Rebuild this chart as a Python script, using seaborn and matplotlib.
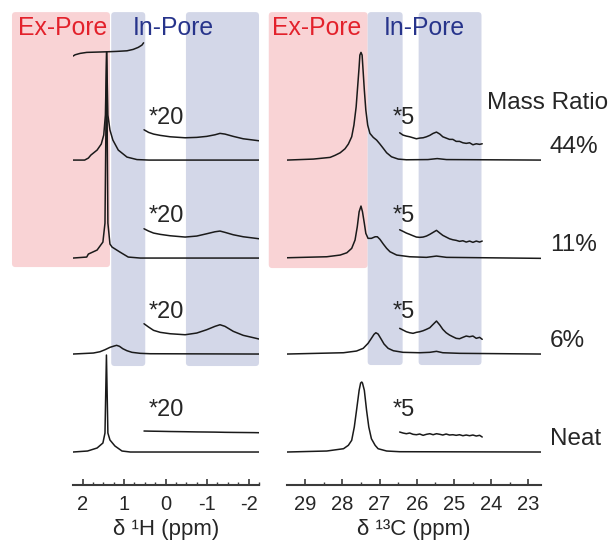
import numpy as np
import matplotlib
matplotlib.use('Agg')
import matplotlib.pyplot as plt
from matplotlib.patches import FancyBboxPatch
from matplotlib.ticker import MultipleLocator
import seaborn as sns

sns.set_style('white')
plt.rcParams['font.family'] = ['Liberation Sans', 'DejaVu Sans']
plt.rcParams['axes.unicode_minus'] = False

samples = ['44%', '11%', '6%', 'Neat']
offsets = [325, 227, 131, 33]

# 1H spectra (ppm, intensity)
h_x = {
    '44%': [2.23, 1.95, 1.86, 1.80, 1.65, 1.55, 1.49, 1.45, 1.42, 1.39, 1.34, 1.27, 1.14, 0.93, 0.69, 0.40, -2.25],
    '11%': [2.23, 1.90, 1.86, 1.65, 1.51, 1.46, 1.42, 1.39, 1.34, 1.29, 1.10, 0.90, 0.61, -2.25],
    '6%': [2.23, 1.74, 1.58, 1.46, 1.34, 1.24, 1.18, 1.11, 1.03, 0.93, 0.81, 0.61, 0.37, -2.25],
    'Neat': [2.23, 1.88, 1.65, 1.51, 1.46, 1.425, 1.39, 1.34, 1.22, 1.05, 0.85, -2.25],
}
h_y = {
    '44%': [0, 0, 2, 5, 10, 16, 25, 45, 108, 45, 30, 20, 10, 3, 0.5, 0, 0],
    '11%': [0, 1, 4, 8, 16, 35, 206, 35, 14, 11, 6, 1, 0, 0],
    '6%': [0, 1, 2.3, 4.3, 6.7, 8, 8.7, 7.7, 5.3, 3.3, 1.7, 0.7, 0.3, 0],
    'Neat': [0, 1, 4, 9, 19, 97, 19, 12, 6, 1, 0, 0],
}
# *20 expansions
h20_x = [0.52, 0.41, 0.29, 0.13, -0.11, -0.47, -0.75, -0.99, -1.19, -1.31, -1.43, -1.63, -1.87, -2.12, -2.25]
h20_y = {
    '44%': [30.3, 27.7, 26, 24.7, 23.3, 22.3, 22.7, 23.7, 25.3, 26.7, 26, 23.7, 21.3, 20, 19.3],
    '11%': [29.3, 27, 25, 23.7, 22.3, 21, 22, 24.3, 26.3, 27, 25.7, 23.3, 21.3, 20, 19.3],
    '6%': [30.3, 27, 23.7, 21.7, 20.3, 19.3, 21, 24.3, 27.7, 29.3, 27.7, 22.7, 18.7, 16.3, 15],
    'Neat': [21, 20.9, 20.8, 20.7, 20.5, 20.3, 20.1, 20, 19.9, 19.8, 19.7, 19.6, 19.5, 19.4, 19.3],
}
# truncation mark above the cut 1H peaks
brk_x = [2.23, 2.18, 2.06, 1.90, 1.66, 1.42, 1.18, 0.93, 0.78, 0.66, 0.57, 0.53]
brk_y = [429, 430.3, 431.7, 432.7, 433, 433.3, 433.7, 434.3, 435.7, 437.7, 440, 442.3]

# 13C spectra (ppm, intensity)
c_x = {
    '44%': [29.49, 28.78, 28.33, 28.20, 28.06, 27.93, 27.84, 27.75, 27.69, 27.63, 27.59, 27.55, 27.53, 27.50,
            27.47, 27.45, 27.41, 27.37, 27.32, 27.26, 27.17, 27.08, 26.99, 26.90, 26.81, 26.68, 26.50, 26.28,
            25.70, 25.45, 25.20, 22.66],
    '11%': [29.49, 28.42, 28.06, 27.88, 27.75, 27.66, 27.60, 27.55, 27.50, 27.46, 27.41, 27.37, 27.31, 27.22,
            27.12, 27.06, 26.99, 26.90, 26.81, 26.72, 26.54, 26.19, 25.74, 25.47, 25.20, 22.66],
    '6%': [29.49, 27.97, 27.62, 27.44, 27.31, 27.22, 27.15, 27.10, 27.04, 26.97, 26.88, 26.77, 26.63, 26.37,
           25.92, 25.65, 25.47, 25.30, 24.85, 22.66],
    'Neat': [29.49, 28.42, 27.97, 27.84, 27.75, 27.68, 27.62, 27.55, 27.51, 27.48, 27.46, 27.41, 27.35, 27.29,
             27.22, 27.12, 27.04, 26.81, 26.46, 22.66],
}
c_y = {
    '44%': [0, 1, 2.7, 4.7, 7.3, 11.3, 16, 23.3, 35, 53.3, 73.3, 93.3, 105, 107.7,
            105, 93.3, 70, 50, 35, 26.7, 22.7, 20, 16, 11.7, 7.3, 3.3, 1, 0.3,
            0.5, 1.5, 0.5, 0],
    '11%': [0.3, 1.3, 3, 5.3, 9.7, 18, 31.3, 46.3, 52, 46.3, 34.7, 24.7, 19.7, 19.7,
            21.3, 21.3, 18.7, 14, 9.7, 6.3, 3, 1.3, 0.7, 2, 0.7, -0.3],
    '6%': [0, 1.3, 3, 5.7, 10.7, 15.7, 19.7, 21.3, 20, 15.7, 10, 5.7, 3.3, 1.7,
           1.3, 1.7, 2.7, 1.3, 0.7, 0],
    'Neat': [0, 1, 3.3, 6.7, 11.7, 25, 41.7, 61.7, 69, 70, 69, 61.7, 41.7, 25,
             13.3, 6.7, 3.3, 1, 0.3, 0],
}
# *5 expansions
c5_x = [26.46, 26.37, 26.28, 26.19, 26.10, 26.01, 25.92, 25.83, 25.74, 25.65, 25.56, 25.47, 25.38,
        25.30, 25.21, 25.12, 25.03, 24.94, 24.85, 24.76, 24.67, 24.58, 24.49, 24.40, 24.31, 24.24]
c5_y = {
    '44%': [27.3, 25, 24, 23.3, 22.3, 21.3, 22, 22.3, 23.3, 24.7, 26.7, 28, 26,
            23.3, 22, 20.7, 20.7, 18.7, 18.7, 17.3, 16.7, 17.3, 15.3, 16.3, 15.7, 16.3],
    '11%': [28.3, 26.7, 25, 23.7, 22.3, 21, 20.7, 21, 22, 23.7, 25.7, 27.7, 25,
            22.7, 21, 19.3, 18.3, 17.7, 16.7, 17.3, 16, 17, 15.7, 17, 16, 17],
    '6%': [25.7, 24, 22.3, 21.3, 20.7, 21.7, 22.3, 23.3, 24.7, 26.3, 29.7, 33, 29,
           24.7, 21.3, 19, 17.3, 15.7, 15.3, 16.7, 18, 17.3, 18, 15.7, 16.7, 14.7],
    'Neat': [20, 19, 18.3, 19, 17.7, 17.3, 18, 16.7, 17.7, 18.3, 17.3, 18.3, 17.7,
             17, 18, 17, 17.3, 16.7, 17.3, 16.3, 17, 16.3, 17, 16, 16.7, 15],
}

RED = '#f9d3d5'
BLUE = '#d3d7e8'
LINE = '#1a1a1a'

fig = plt.figure(figsize=(6.11, 5.43), dpi=100)
ax1 = fig.add_axes([0.1195, 0.1068, 0.3044, 0.893])
ax2 = fig.add_axes([0.4697, 0.1068, 0.4157, 0.893])


def shade(ax, x0, x1, y0, y1, color, aspect):
    r = 3.5 / aspect
    p = FancyBboxPatch((min(x0, x1), y0), abs(x1 - x0), y1 - y0,
                       boxstyle=f'round,pad=0,rounding_size={r}',
                       mutation_aspect=aspect, fc=color, ec='none',
                       clip_on=False, zorder=0)
    ax.add_patch(p)


def trace(ax, xs, ys, off):
    sns.lineplot(x=xs, y=np.array(ys) + off, ax=ax, color=LINE, lw=1.1,
                 sort=False, estimator=None)


# left panel: 1H
shade(ax1, 3.70, 1.34, 218, 473, RED, 41.5)
shade(ax1, 1.31, 0.49, 119, 473, BLUE, 41.5)
shade(ax1, -0.49, -2.25, 119, 473, BLUE, 41.5)
for s, off in zip(samples, offsets):
    trace(ax1, h_x[s], h_y[s], off)
    trace(ax1, h20_x, h20_y[s], off)
    ax1.text(0.42, off + 42, '*20', fontsize=17, ha='left', va='center')
trace(ax1, brk_x, brk_y, 0)
ax1.text(2.47, 457, 'Ex-Pore', color='#e3212b', fontsize=17.8, ha='center', va='center')
ax1.text(-0.18, 457, 'In-Pore', color='#27348b', fontsize=17.8, ha='center', va='center')
ax1.set_xlim(2.23, -2.25)
ax1.xaxis.set_major_locator(MultipleLocator(1))
ax1.xaxis.set_minor_locator(MultipleLocator(0.25))
ax1.set_xlabel('δ ¹H (ppm)', fontsize=16, labelpad=3.5)

# right panel: 13C
shade(ax2, 29.98, 27.32, 217, 473, RED, 37.33)
shade(ax2, 27.32, 26.38, 120, 473, BLUE, 37.33)
shade(ax2, 25.95, 24.26, 120, 473, BLUE, 37.33)
for s, off in zip(samples, offsets):
    trace(ax2, c_x[s], c_y[s], off)
    trace(ax2, c5_x, c5_y[s], off)
    ax2.text(26.64, off + 42, '*5', fontsize=17, ha='left', va='center')
    ax2.text(22.42, off + 13, s, fontsize=17.5, ha='left', va='center')
ax2.text(24.10, 382, 'Mass Ratio', fontsize=17.5, ha='left', va='center')
ax2.text(28.68, 457, 'Ex-Pore', color='#e3212b', fontsize=17.8, ha='center', va='center')
ax2.text(25.79, 457, 'In-Pore', color='#27348b', fontsize=17.8, ha='center', va='center')
ax2.set_xlim(29.49, 22.66)
ax2.xaxis.set_major_locator(MultipleLocator(1))
ax2.xaxis.set_minor_locator(MultipleLocator(0.5))
ax2.set_xlabel('δ ¹³C (ppm)', fontsize=16, labelpad=3.5)

for ax in (ax1, ax2):
    ax.set_ylim(0, 485)
    ax.set_yticks([])
    ax.set_ylabel('')
    ax.patch.set_alpha(0)
    for side in ('left', 'right', 'top'):
        ax.spines[side].set_visible(False)
    ax.spines['bottom'].set_color('#3a3a3a')
    ax.spines['bottom'].set_linewidth(1.5)
    ax.tick_params(axis='x', which='major', direction='in', length=4, width=1.2,
                   color='#3a3a3a', labelsize=14.5, pad=7, bottom=True)
    ax.tick_params(axis='x', which='minor', direction='in', length=2.5, width=1.0,
                   color='#3a3a3a', bottom=True)

fig.savefig('out.png', dpi=100)
